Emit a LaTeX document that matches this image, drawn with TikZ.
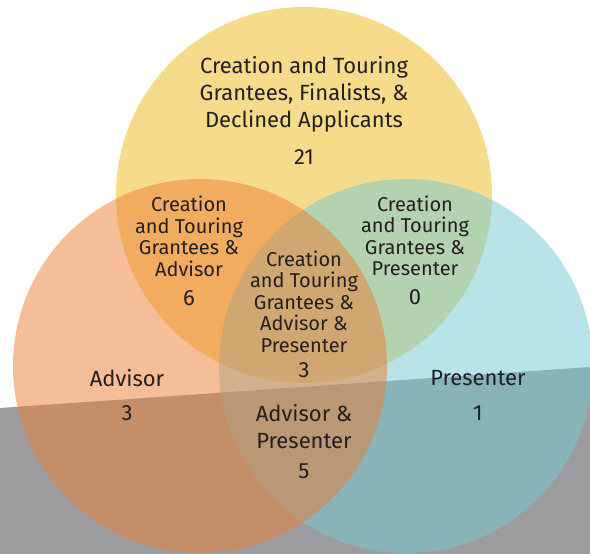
\documentclass[tikz,border=0pt]{standalone}
\usepackage{fontspec}
\setmainfont{Fira Sans}
\definecolor{cyel}{RGB}{239,186,29}
\definecolor{ccya}{RGB}{116,202,210}
\definecolor{cora}{RGB}{237,127,53}
\definecolor{cgry}{RGB}{157,157,159}
\definecolor{ctxt}{RGB}{35,31,32}
\begin{document}
\begin{tikzpicture}[x=1pt,y=-1pt,
  blob/.style={fill opacity=0.51,draw=none},
  biglbl/.style={text=ctxt,align=center,font=\fontsize{22}{27}\selectfont,inner sep=0pt},
  smalllbl/.style={text=ctxt,align=center,font=\fontsize{20}{21.5}\selectfont,inner sep=0pt},
  numlbl/.style={text=ctxt,font=\fontsize{22}{24}\selectfont,inner sep=0pt}]
\useasboundingbox (0,0) rectangle (590,554);
\fill[white] (0,0) rectangle (590,554);
\fill[cgry] (0,408) -- (590,367) -- (590,554) -- (0,554) -- cycle;
\fill[blob,cyel] (304,195) circle[radius=188];
\fill[blob,ccya] (406,366) circle[radius=187];
\fill[blob,cora] (200,366) circle[radius=187];
\node[biglbl] (top) at (304,94) {Creation and Touring\\Grantees, Finalists, \&\\Declined Applicants};
\node[numlbl] (ntop) at (304,157) {21};
\node[smalllbl] (lft) at (189,236.5) {Creation\\and Touring\\Grantees \&\\Advisor};
\node[numlbl] (nlft) at (189,298) {6};
\node[smalllbl] (rgt) at (415,236) {Creation\\and Touring\\Grantees \&\\Presenter};
\node[numlbl] (nrgt) at (415,297) {0};
\node[smalllbl] (ctr) at (304,301.5) {Creation\\and Touring\\Grantees \&\\Advisor \&\\Presenter};
\node[numlbl] (nctr) at (304,370) {3};
\node[biglbl] (adv) at (127,378) {Advisor};
\node[numlbl] (nadv) at (127,413) {3};
\node[biglbl] (pre) at (478,378) {Presenter};
\node[numlbl] (npre) at (478,413) {1};
\node[biglbl] (ap) at (304,426.5) {Advisor \&\\Presenter};
\node[numlbl] (nap) at (304,471) {5};
\end{tikzpicture}
\end{document}
